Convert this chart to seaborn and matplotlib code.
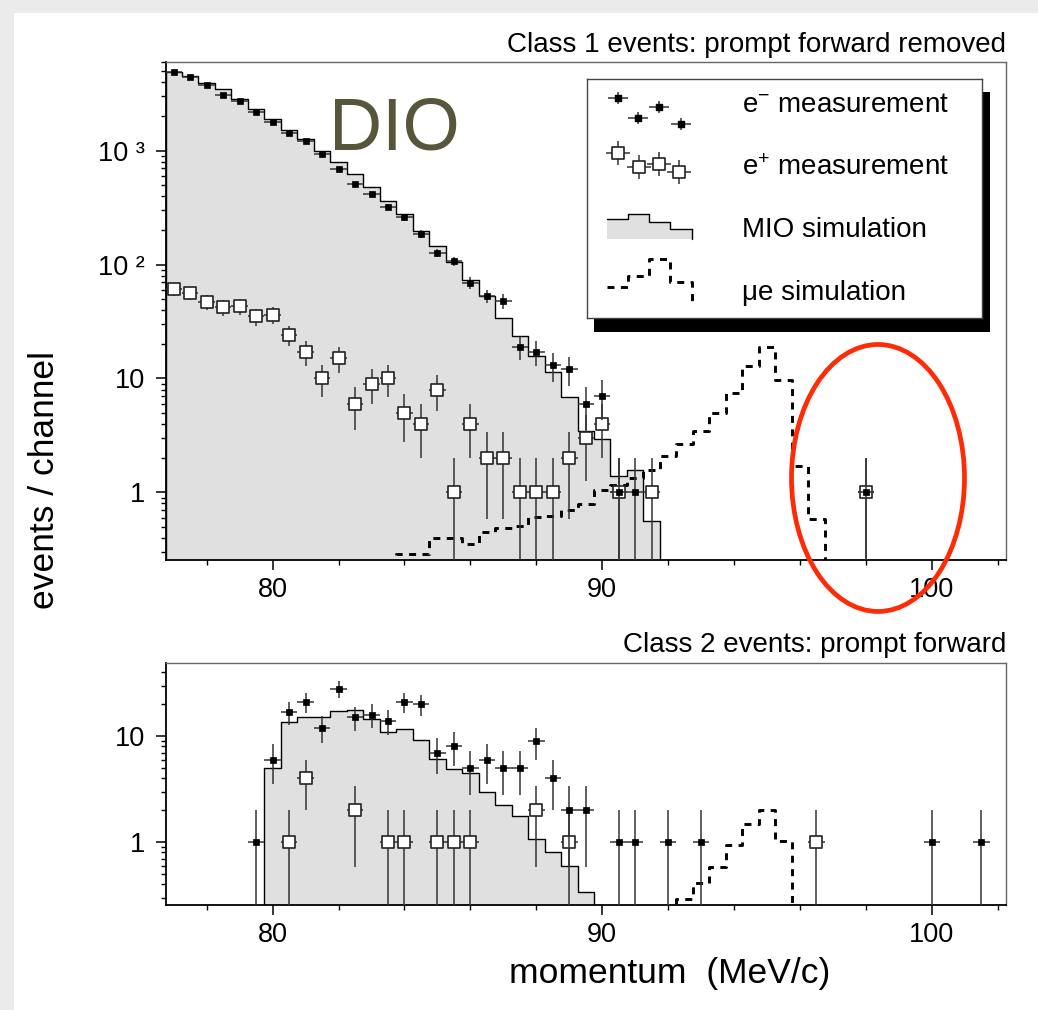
import numpy as np
import matplotlib
matplotlib.use("Agg")
import matplotlib.pyplot as plt
import seaborn as sns
from matplotlib.patches import Ellipse, Rectangle
from matplotlib.ticker import FixedLocator, FixedFormatter, MultipleLocator, LogLocator, NullFormatter

# ---------------- data ----------------
BIN_WIDTH = 0.5

# Class 1 events (top panel)
mio1_x = [77.0, 77.5, 78.0, 78.5, 79.0, 79.5, 80.0, 80.5, 81.0, 81.5, 82.0, 82.5, 83.0, 83.5,
          84.0, 84.5, 85.0, 85.5, 86.0, 86.5, 87.0, 87.5, 88.0, 88.5, 89.0, 89.5, 90.0, 90.5,
          91.0, 91.5]
mio1_y = [4930, 4550, 3950, 3450, 2820, 2300, 1884, 1517, 1257, 1000, 800, 620, 482, 363,
          276, 198, 146, 106, 73, 53, 33.7, 23.6, 15.7, 11.4, 6.9, 3.45, 2.96, 1.39,
          1.56, 0.556]

mue1_x = [83.5, 84.0, 84.5, 85.0, 85.5, 86.0, 86.5, 87.0, 87.5, 88.0, 88.5, 89.0, 89.5, 90.0,
          90.5, 91.0, 91.5, 92.0, 92.5, 93.0, 93.5, 94.0, 94.5, 95.0, 95.5, 96.0, 96.5, 97.0]
mue1_y = [0, 0.287, 0.287, 0.394, 0.394, 0.349, 0.451, 0.483, 0.506, 0.611, 0.624, 0.70, 0.789, 1.06,
          1.16, 1.33, 1.57, 2.08, 2.64, 3.45, 4.94, 7.5, 12.8, 19.0, 9.7, 1.70, 0.58, 0]

em1_x = [77.0, 77.5, 78.0, 78.5, 79.0, 79.5, 80.0, 80.5, 81.0, 81.5, 82.0, 82.5, 83.0, 83.5,
         84.0, 84.5, 85.0, 85.5, 86.0, 86.5, 87.0, 87.5, 88.0, 88.5, 89.0, 89.5, 90.0, 90.5,
         91.0, 98.0]
em1_y = [4870, 4400, 3740, 3080, 2710, 2200, 1770, 1437, 1214, 927, 685, 512, 413, 321,
         259, 186, 127, 107, 69, 53, 48, 19, 17, 13, 12, 6, 7, 1,
         1, 1]

ep1_x = [77.0, 77.5, 78.0, 78.5, 79.0, 79.5, 80.0, 80.5, 81.0, 81.5, 82.0, 82.5, 83.0, 83.5,
         84.0, 84.5, 85.0, 85.5, 86.0, 86.5, 87.0, 87.5, 88.0, 88.5, 89.0, 89.5, 90.0, 90.5,
         91.5, 98.0]
ep1_y = [61, 56, 47, 42, 43, 35, 36, 24, 17, 10, 15, 6, 9, 10,
         5, 4, 8, 1, 4, 2, 2, 1, 1, 1, 2, 3, 4, 1,
         1, 1]

# Class 2 events (bottom panel)
mio2_x = [80.0, 80.5, 81.0, 81.5, 82.0, 82.5, 83.0, 83.5, 84.0, 84.5, 85.0, 85.5, 86.0, 86.5,
          87.0, 87.5, 88.0, 88.5, 89.0, 89.5]
mio2_y = [5.0, 13.6, 15.2, 15.2, 17.3, 17.7, 14.4, 11.0, 11.6, 9.2, 6.1, 4.9, 4.5, 2.94,
          2.22, 1.76, 1.07, 0.81, 0.60, 0.34]

mue2_x = [92.0, 92.5, 93.0, 93.5, 94.0, 94.5, 95.0, 95.5, 96.0]
mue2_y = [0, 0.29, 0.41, 0.585, 0.94, 1.48, 2.0, 1.02, 0]

em2_x = [79.5, 80.0, 80.5, 81.0, 81.5, 82.0, 82.5, 83.0, 83.5, 84.0, 84.5, 85.0, 85.5, 86.0,
         86.5, 87.0, 87.5, 88.0, 88.5, 89.0, 89.5, 90.5, 91.0, 92.0, 93.0, 100.0, 101.5]
em2_y = [1, 6, 17, 21, 12, 28, 15, 16, 14, 21, 20, 7, 8, 5,
         6, 5, 5, 9, 4, 2, 2, 1, 1, 1, 1, 1, 1]

ep2_x = [80.5, 81.0, 82.5, 83.5, 84.0, 85.0, 85.5, 86.0, 88.0, 89.0, 96.5]
ep2_y = [1, 4, 2, 1, 1, 1, 1, 1, 2, 1, 1]

x_ticks = [80, 90, 100]
x_tick_labels = ["80", "90", "100"]
y1_ticks = [1, 10, 100, 1000]
y1_tick_labels = ["1", "10", "10 \u00b2", "10 \u00b3"]
y2_ticks = [1, 10]
y2_tick_labels = ["1", "10"]

legend_labels = ["e$^{-}$ measurement", "e$^{+}$ measurement", "MIO simulation", "\u03bce simulation"]

# legend sample glyphs (local legend-box pixel units)
leg_em_x = [30.7, 51.3, 72.0, 93.7]
leg_em_y = [19.3, 38.7, 27.7, 45.3]
leg_ep_x = [31.3, 52.0, 72.0, 92.0]
leg_ep_y = [74.3, 88.3, 85.3, 92.7]
leg_step_x = [19.7, 41.3, 62.3, 83.0, 104.7]
leg_mio_lv = [140.3, 135.3, 142.7, 150.0]
leg_mue_lv = [207.7, 196.7, 180.0, 203.3]

# ---------------- style ----------------
sns.set_theme(style="ticks")
plt.rcParams['font.family'] = ['Liberation Sans', 'DejaVu Sans']
plt.rcParams['mathtext.fontset'] = 'custom'
plt.rcParams['mathtext.rm'] = 'Liberation Sans'
plt.rcParams['mathtext.it'] = 'Liberation Sans:italic'
plt.rcParams['mathtext.bf'] = 'Liberation Sans:bold'
for k in ['text.color', 'axes.labelcolor', 'xtick.color', 'ytick.color', 'axes.titlecolor']:
    plt.rcParams[k] = 'black'

MIO_FILL = '#e0e0e0'
ERR_C = '#333333'
DASH = (0, (2.4, 2.2))

W, H = 1038, 1010
fig = plt.figure(figsize=(W / 100, H / 100), dpi=100)
fig.patch.set_facecolor('#ebebeb')
fig.add_artist(Rectangle((14 / W, 0), 1 - 14 / W, 1 - 13 / H, transform=fig.transFigure,
                         facecolor='white', edgecolor='none', zorder=-10))

ax1 = fig.add_axes([165.5 / W, 1 - 560 / H, 840.5 / W, 498 / H])
ax2 = fig.add_axes([165.5 / W, 1 - 905 / H, 840.5 / W, 242 / H])


def edges_of(centers):
    c = np.asarray(centers, float)
    return [float(v) for v in np.append(c - BIN_WIDTH / 2, c[-1] + BIN_WIDTH / 2)]


def draw_points(ax, x, y, filled, z):
    y = np.asarray(y, float)
    err = np.sqrt(y)
    ax.errorbar(x, y, xerr=BIN_WIDTH / 2, yerr=err, fmt='none', ecolor=ERR_C,
                elinewidth=1.1, capsize=0, zorder=z)
    if filled:
        sns.scatterplot(x=x, y=y, marker='s', s=18, color='black', edgecolor='black',
                        linewidth=0.5, ax=ax, zorder=z + 1, legend=False)
    else:
        sns.scatterplot(x=x, y=y, marker='s', s=85, color='white', edgecolor='#222222',
                        linewidth=1.2, ax=ax, zorder=z + 1, legend=False)


def draw_panel(ax, mio_x, mio_y, mue_x, mue_y, em_x, em_y, ep_x, ep_y,
               ylim, yt, ytl, title, pad):
    sns.histplot(x=mio_x, weights=mio_y, bins=edges_of(mio_x), element='step', fill=True,
                 facecolor=MIO_FILL, edgecolor='black', linewidth=1.0, ax=ax, zorder=1)
    sns.histplot(x=mue_x, weights=mue_y, bins=edges_of(mue_x), element='step', fill=False,
                 color='black', linewidth=2.1, linestyle=DASH, ax=ax, zorder=2)
    draw_points(ax, ep_x, ep_y, filled=False, z=3)
    draw_points(ax, em_x, em_y, filled=True, z=5)

    ax.set_yscale('log')
    ax.set_xlim(76.75, 102.25)
    ax.set_ylim(*ylim)
    ax.set_xlabel('')
    ax.set_ylabel('')
    ax.set_facecolor('white')

    ax.xaxis.set_major_locator(FixedLocator(x_ticks))
    ax.xaxis.set_major_formatter(FixedFormatter(x_tick_labels))
    ax.xaxis.set_minor_locator(MultipleLocator(2))
    ax.yaxis.set_major_locator(FixedLocator(yt))
    ax.yaxis.set_major_formatter(FixedFormatter(ytl))
    ax.yaxis.set_minor_locator(LogLocator(base=10, subs=np.arange(2, 10)))
    ax.yaxis.set_minor_formatter(NullFormatter())

    ax.tick_params(axis='both', which='major', direction='out', length=7, width=1.1,
                   labelsize=19.5, colors='black', top=False, right=False)
    ax.tick_params(axis='both', which='minor', direction='out', length=3.5, width=1.0,
                   colors='black', top=False, right=False)
    ax.tick_params(axis='x', which='major', pad=5)
    ax.tick_params(axis='y', which='major', pad=8)

    for s in ['left', 'bottom']:
        ax.spines[s].set_color('black')
        ax.spines[s].set_linewidth(1.3)
    for s in ['top', 'right']:
        ax.spines[s].set_color('#666666')
        ax.spines[s].set_linewidth(1.0)
        ax.spines[s].set_visible(True)

    ax.set_title(title, loc='right', fontsize=20, pad=pad, color='black')


draw_panel(ax1, mio1_x, mio1_y, mue1_x, mue1_y, em1_x, em1_y, ep1_x, ep1_y,
           (0.255, 6000), y1_ticks, y1_tick_labels,
           'Class 1 events: prompt forward removed', 7)
draw_panel(ax2, mio2_x, mio2_y, mue2_x, mue2_y, em2_x, em2_y, ep2_x, ep2_y,
           (0.255, 49), y2_ticks, y2_tick_labels,
           'Class 2 events: prompt forward', 8)

# DIO label
ax1.text(0.195, 0.825, 'DIO', transform=ax1.transAxes, fontsize=53, color='#57553a',
         ha='left', va='baseline', zorder=7)

# red ellipse highlight
ax1.add_patch(Ellipse((0.8477, 0.1647), 0.2058, 0.5361, transform=ax1.transAxes,
                      fill=False, edgecolor='#ff2b06', linewidth=3.4, clip_on=False, zorder=20))

# axis titles
fig.text(45 / W, 1 - 480 / H, 'events / channel', rotation=90, ha='center', va='center',
         fontsize=25.5, color='black')
fig.text(670 / W, 1 - 983 / H, 'momentum  (MeV/c)', ha='center', va='baseline', fontsize=25.5,
         color='black')

# ---------------- legend with shadow ----------------
fig.add_artist(Rectangle((594 / W, 1 - 332 / H), 396 / W, 240 / H, transform=fig.transFigure,
                         facecolor='black', edgecolor='none', zorder=4))
lax = fig.add_axes([587 / W, 1 - 318 / H, 395 / W, 239 / H], zorder=5)
lax.set_facecolor('white')
lax.set_xlim(0, 395)
lax.set_ylim(239, 0)
lax.set_xticks([])
lax.set_yticks([])
for s in lax.spines.values():
    s.set_color('#444444')
    s.set_linewidth(1.0)

lax.errorbar(leg_em_x, leg_em_y, xerr=10, yerr=6, fmt='none', ecolor=ERR_C, elinewidth=1.1, capsize=0)
lax.scatter(leg_em_x, leg_em_y, marker='s', s=18, color='black', zorder=3)
lax.errorbar(leg_ep_x, leg_ep_y, xerr=12, yerr=12, fmt='none', ecolor=ERR_C, elinewidth=1.1, capsize=0)
lax.scatter(leg_ep_x, leg_ep_y, marker='s', s=85, facecolor='white', edgecolor='#222222',
            linewidth=1.2, zorder=3)
mio_lv = leg_mio_lv + [leg_mio_lv[-1]]
lax.fill_between(leg_step_x, mio_lv, 160, step='post', color=MIO_FILL, linewidth=0)
lax.step(leg_step_x, mio_lv, where='post', color='black', linewidth=1.0)
lax.plot([leg_step_x[-1], leg_step_x[-1]], [leg_mio_lv[-1], 160], color='black', linewidth=1.0)
lax.step(leg_step_x[:-1] + [leg_step_x[-1], leg_step_x[-1]], leg_mue_lv + [leg_mue_lv[-1], 221.7],
         where='post', color='black', linewidth=2.1, linestyle=DASH)

for label, yb in zip(legend_labels, [32.7, 95.7, 157.7, 221.0]):
    lax.text(155, yb, label, fontsize=20, ha='left', va='baseline', color='black')

fig.savefig('out.png', dpi=100)
